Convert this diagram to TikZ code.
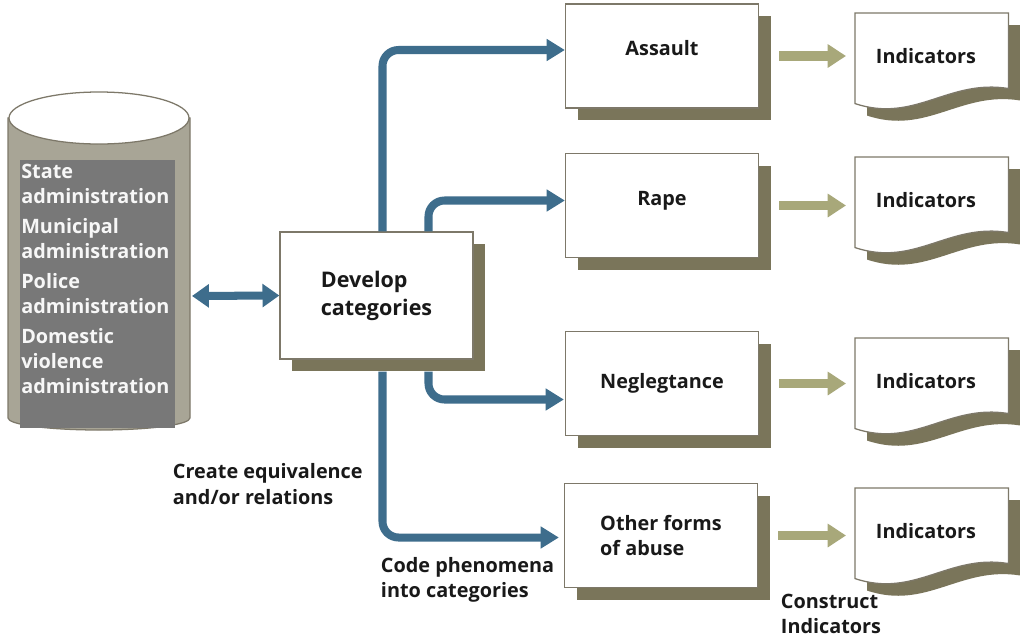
\documentclass[tikz,border=0pt]{standalone}
\usepackage{fontspec}
\setmainfont{Open Sans}
\usetikzlibrary{positioning,calc,shadows,arrows.meta}

\definecolor{flowblue}{RGB}{62,109,140}
\definecolor{khaki}{RGB}{168,168,122}
\definecolor{shadowc}{RGB}{122,117,90}
\definecolor{edgec}{RGB}{125,120,105}
\definecolor{cylc}{RGB}{168,165,150}
\definecolor{srcgray}{RGB}{120,120,120}
\definecolor{inkc}{RGB}{25,25,25}

\newcommand\pxl{0.025cm}

\begin{document}
\begin{tikzpicture}[x=\pxl,y=-\pxl,
txt/.style={font=\bfseries\fontsize{14.1}{18}\selectfont,text=inkc,align=left},
shade/.style={drop shadow={shadow xshift=0.3cm,shadow yshift=-0.3cm,fill=shadowc,opacity=1}},
box/.style={txt,draw=edgec,line width=0.9pt,fill=white,shade},
catbox/.style={box,minimum width=193*\pxl,minimum height=104*\pxl},
docnode/.style={txt,minimum width=153*\pxl,minimum height=90*\pxl,inner sep=0pt},
docedge/.style={draw=edgec,line width=0.9pt,fill=white,shade},
flow/.style={draw=flowblue,line width=5.7pt,rounded corners=16*\pxl,
  -{Triangle[length=13pt,width=15pt]}},
dbl/.style={draw=flowblue,line width=5.7pt,
  {Triangle[length=12pt,width=16pt]}-{Triangle[length=12pt,width=16pt]}},
feed/.style={draw=khaki,line width=7pt,-{Triangle[length=13pt,width=16pt]}}]
 \useasboundingbox[fill=white] (0,0) rectangle (1020,639);
 % data sources
 \draw[draw=edgec,fill=cylc,line width=0.9pt] (8,118) -- (8,418)
 arc[start angle=180,end angle=0,x radius=91,y radius=12] -- (190,118) -- cycle;
 \draw[draw=edgec,fill=white,line width=0.9pt] (99,118) ellipse[x radius=90,y radius=26];
 \node[fill=srcgray,minimum width=155*\pxl,minimum height=268*\pxl,anchor=north west,
 inner sep=0pt] (srcs) at (20,160) {};
 \node[txt,text=white!94!gray,anchor=north west,inner sep=0pt] (srctxt) at (21,164)
 {State\\administration\\[3pt]Municipal\\administration\\[3pt]Police\\administration\\[3pt]
 Domestic\\violence\\administration};
 \coordinate (dbE) at (190,296);
 % categories
 \node[box,minimum width=193*\pxl,minimum height=127*\pxl,
 font=\bfseries\fontsize{15.3}{20}\selectfont] (dev) at (376.5,295.5) {Develop\\categories};
 \node[catbox,text depth=11pt] (asl) at (662,56) {Assault};
 \node[catbox,text depth=10.5pt] (rape) at (662,205.5) {Rape};
 \node[catbox] (negl) at (662,383.5) {Neglegtance};
 \node[catbox] (oth) at (661,535.5) {Other forms\\of abuse};
 \draw[dbl,shorten <=2*\pxl] (dbE) -- (dev.west);
 \draw[flow] ($(dev.north)+(6,0)$) |- ($(asl.west)+(0,-6)$);
 \draw[flow] ($(dev.north)+(52,0)$) |- ($(rape.west)+(0,-5)$);
 \draw[flow] ($(dev.south)+(52,12)$) |- ($(negl.west)+(-1,16)$);
 \draw[flow] ($(dev.south)+(6,12)$) |- ($(oth.west)+(-5,2)$);
 % indicators
 \foreach \c/\t in {asl/13,rape/157,negl/338,oth/488}
 {\node[docnode,anchor=north west] (ind-\c) at (855,\t) {};
 \draw[docedge] (ind-\c.north west) -- (ind-\c.north east)
 -- ($(ind-\c.south east)+(0,-15)$) .. controls +(-60,-10) and +(60,20) ..
 (ind-\c.south west) -- cycle;
 \node[txt] at ($(ind-\c.north west)+(71,43)$) {Indicators};
 \draw[feed,shorten <=20*\pxl,shorten >=9*\pxl] (\c.east) -- (\c.east -| ind-\c.west);}
 % notes
 \node[txt,anchor=west] (eqlbl) at (168,484) {Create equivalence\\and/or relations};
 \node[txt,anchor=west] (codelbl) at (376,580) {Code phenomena\\into categories};
 \node[txt,anchor=west] (conlbl) at (776,614) {Construct\\Indicators};
\end{tikzpicture}
\end{document}
